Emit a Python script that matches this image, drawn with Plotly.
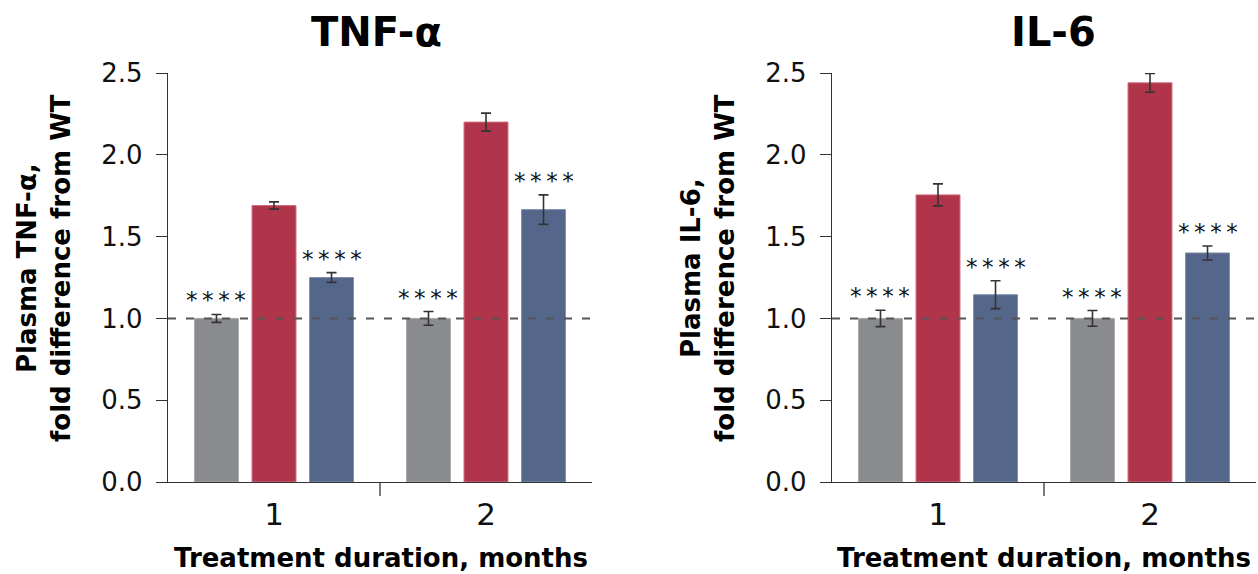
import plotly.graph_objects as go

# ---- data -------------------------------------------------------------
months = [1, 2]
month_labels = ["1", "2"]
groups = ["WT", "Untreated", "Treated"]

tnf_wt = [1.00, 1.00]
tnf_wt_err = [0.024, 0.042]
tnf_untreated = [1.69, 2.20]
tnf_untreated_err = [0.022, 0.055]
tnf_treated = [1.25, 1.665]
tnf_treated_err = [0.03, 0.09]

il6_wt = [1.00, 1.00]
il6_wt_err = [0.05, 0.048]
il6_untreated = [1.755, 2.44]
il6_untreated_err = [0.067, 0.058]
il6_treated = [1.145, 1.40]
il6_treated_err = [0.085, 0.043]

y_ticks = [0.0, 0.5, 1.0, 1.5, 2.0, 2.5]
sig_mark = "*\u2009*\u2009*\u2009*"

# ---- style ------------------------------------------------------------
FONT = "DejaVu Sans"
colors = ["#8a8b8f", "#b0354b", "#54678a"]
edge_colors = ["#a9aaad", "#cf6c80", "#8090ad"]
axis_col = "#333333"
W, H = 1258, 574
BARGAP, GROUPGAP = 0.186, 0.236
slot = (1 - BARGAP) / 3  # width of one bar slot in x units

px_top, px_bottom = 73, 482
y_dom = [1 - px_bottom / H, 1 - px_top / H]
plot_h = px_bottom - px_top
panels = [
    dict(name="TNF-α", ylabel="Plasma TNF-α,<br>fold difference from WT",
         xdom=[168 / W, 592 / W], title_x=376, ylab_x=44, xlab_x=381,
         series=[(tnf_wt, tnf_wt_err), (tnf_untreated, tnf_untreated_err),
                 (tnf_treated, tnf_treated_err)]),
    dict(name="IL-6", ylabel="Plasma IL-6,<br>fold difference from WT",
         xdom=[832 / W, 1256 / W], title_x=1053, ylab_x=708, xlab_x=1044,
         series=[(il6_wt, il6_wt_err), (il6_untreated, il6_untreated_err),
                 (il6_treated, il6_treated_err)]),
]

fig = go.Figure()
annotations = []
shapes = []

for i, p in enumerate(panels):
    ax = "" if i == 0 else str(i + 1)
    xa, ya = "x" + ax, "y" + ax
    for g, (vals, errs) in enumerate(p["series"]):
        fig.add_trace(go.Bar(
            x=months, y=vals, name=groups[g], xaxis=xa, yaxis=ya,
            marker=dict(color=colors[g], line=dict(color=edge_colors[g], width=1)),
            error_y=dict(type="data", array=errs, visible=True, color=axis_col,
                         thickness=1.6, width=5),
            offsetgroup=str(g), showlegend=False,
        ))
        # significance marks over WT and treated bars
        if g != 1:
            for m, v, e in zip(months, vals, errs):
                annotations.append(dict(
                    x=m + (g - 1) * slot, y=v + e, xref=xa, yref=ya,
                    text=sig_mark, showarrow=False, yanchor="middle",
                    yshift=14, font=dict(family=FONT, size=23, color="#111"),
                ))

    fig.update_layout(**{
        "xaxis" + ax: dict(
            domain=p["xdom"], range=[0.5, 2.5], anchor=ya, automargin=False,
            tickvals=months, ticktext=month_labels, ticks="",
            showline=True, linecolor=axis_col, linewidth=1.3,
            showgrid=False, zeroline=False, ticklabelstandoff=5,
            tickfont=dict(family=FONT, size=31, color="#111"),
        ),
        "yaxis" + ax: dict(
            domain=y_dom, range=[0, 2.5], anchor=xa, automargin=False,
            tickvals=y_ticks, tickformat=".1f", ticks="outside",
            ticklen=11, tickwidth=1.3, tickcolor=axis_col,
            showline=True, linecolor=axis_col, linewidth=1.3,
            showgrid=False, zeroline=False, ticklabelstandoff=8,
            tickfont=dict(family=FONT, size=26, color="#111"),
        ),
    })

    # reference line at fold change = 1
    shapes.append(dict(type="line", xref=xa + " domain", yref=ya,
                       x0=0, x1=1, y0=1, y1=1,
                       line=dict(color="#555555", width=2, dash="8px,10px")))
    # divider tick between the two months
    shapes.append(dict(type="line", xref=xa, yref=ya + " domain",
                       x0=1.5, x1=1.5, y0=0, y1=-14 / plot_h,
                       line=dict(color=axis_col, width=1.3)))

    # panel title
    annotations.append(dict(
        x=p["title_x"] / W, y=1 - 32 / H, xref="paper", yref="paper",
        text="<b>" + p["name"] + "</b>", showarrow=False,
        xanchor="center", yanchor="middle",
        font=dict(family=FONT, size=40, color="#000"),
    ))
    # y-axis title
    annotations.append(dict(
        x=p["ylab_x"] / W, y=1 - 268 / H, xref="paper", yref="paper",
        text="<b>" + p["ylabel"] + "</b>", showarrow=False, textangle=-90,
        xanchor="center", yanchor="middle", align="center",
        font=dict(family=FONT, size=26, color="#000"),
    ))
    # x-axis title
    annotations.append(dict(
        x=p["xlab_x"] / W, y=1 - 558 / H, xref="paper", yref="paper",
        text="<b>Treatment duration, months</b>", showarrow=False,
        xanchor="center", yanchor="middle",
        font=dict(family=FONT, size=26, color="#000"),
    ))

fig.update_layout(
    width=W, height=H,
    margin=dict(l=0, r=0, t=0, b=0),
    paper_bgcolor="white", plot_bgcolor="white",
    barmode="group", bargap=BARGAP, bargroupgap=GROUPGAP,
    annotations=annotations, shapes=shapes,
    showlegend=False,
)

fig.write_html("out.html")
